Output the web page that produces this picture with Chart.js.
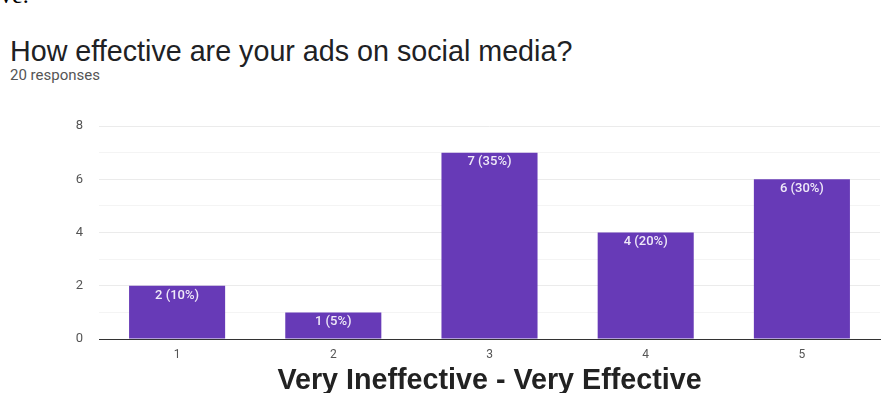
<!DOCTYPE html>
<html>
<head>
<meta charset="utf-8">
<script src="https://cdn.jsdelivr.net/npm/chart.js@4/dist/chart.umd.min.js"></script>
<style>
  html, body { margin: 0; padding: 0; background: #fff; }
  #wrap { position: relative; width: 883px; height: 393px; overflow: hidden; }
  #cut { position: absolute; left: 0; top: -18px; font: 24px "Liberation Serif", serif; color: #000; }
  #title { position: absolute; left: 10px; top: 35px; font: 28.7px "Liberation Sans", Arial, sans-serif; color: #202124; }
  #sub { position: absolute; left: 10px; top: 66px; font: 15px Roboto, sans-serif; color: #555; }
  canvas { position: absolute; left: 0; top: 0; }
</style>
</head>
<body>
<div id="wrap">
  <div id="cut">ve.</div>
  <div id="title">How effective are your ads on social media?</div>
  <div id="sub">20 responses</div>
  <canvas id="c" width="883" height="393"></canvas>
</div>
<script>
// survey answers, scale 1..5
const categories = ['1', '2', '3', '4', '5'];
const counts = [2, 1, 7, 4, 6];
const percents = [10, 5, 35, 20, 30];
const yTicks = [0, 2, 4, 6, 8];

// labels inside the top of each bar
const barLabels = {
  id: 'barLabels',
  afterDatasetsDraw(chart) {
    const ctx = chart.ctx;
    const meta = chart.getDatasetMeta(0);
    ctx.save();
    ctx.font = '500 13px Roboto, sans-serif';
    ctx.fillStyle = '#efe9f8';
    ctx.textAlign = 'center';
    ctx.textBaseline = 'top';
    meta.data.forEach((bar, i) => {
      ctx.fillText(counts[i] + ' (' + percents[i] + '%)', bar.x, bar.y + 3);
    });
    ctx.restore();
  }
};

new Chart(document.getElementById('c'), {
  type: 'bar',
  data: {
    labels: categories,
    datasets: [{ data: counts, backgroundColor: '#673ab7', categoryPercentage: 1, barPercentage: 0.615 }]
  },
  options: {
    responsive: false,
    animation: false,
    layout: { padding: { top: 126, right: 3, left: 0, bottom: 0 } },
    plugins: { legend: { display: false }, tooltip: { enabled: false } },
    scales: {
      x: {
        grid: { display: false, drawTicks: false },
        border: { color: '#333', width: 1 },
        ticks: { color: '#555', font: { family: 'Roboto', size: 12 }, padding: 9 },
        title: {
          display: true,
          text: 'Very Ineffective - Very Effective',
          color: '#222',
          font: { family: 'Liberation Sans', size: 28.7, weight: 'bold' },
          padding: { top: 0, bottom: -5 }
        },
        afterFit: s => { s.height = 54; }
      },
      y: {
        min: 0,
        max: 8,
        ticks: {
          stepSize: 1,
          color: '#555',
          font: { family: 'Roboto', size: 13 },
          padding: 16,
          callback: v => yTicks.includes(v) ? v : ''
        },
        grid: {
          drawTicks: false,
          color: c => (c.tick.value % 2 === 0 ? '#ebebeb' : '#f4f4f4')
        },
        border: { display: false },
        afterFit: s => { s.width = 99; }
      }
    }
  },
  plugins: [barLabels]
});
</script>
</body>
</html>
